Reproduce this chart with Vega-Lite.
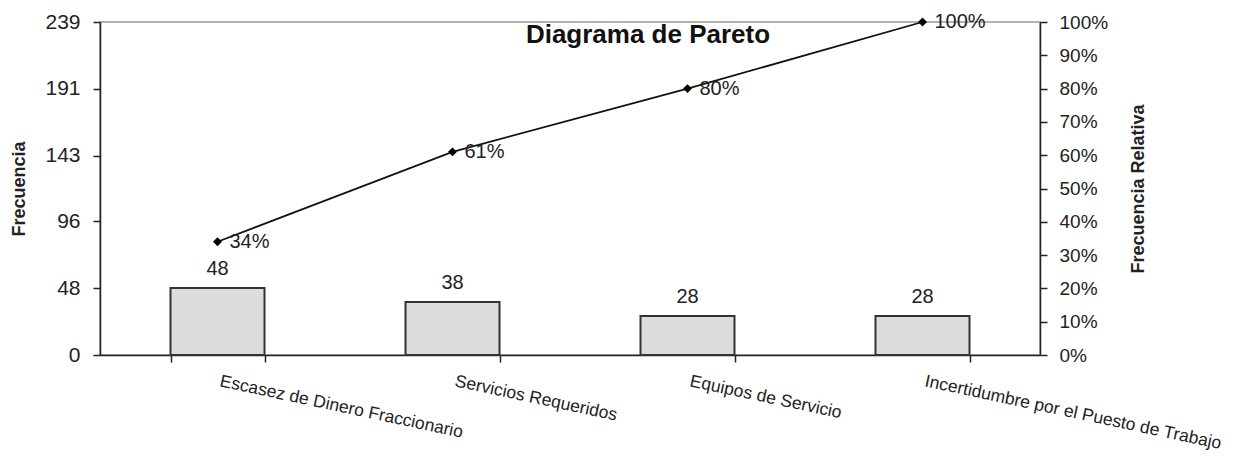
{
  "$schema": "https://vega.github.io/schema/vega-lite/v6.json",
  "autosize": {"type": "none"},
  "padding": {"left": 100, "top": 22, "right": 213, "bottom": 103},
  "width": 940,
  "height": 333,
  "background": "white",
  "config": {
    "font": "Liberation Sans",
    "view": {"stroke": "#999999", "strokeWidth": 1.5},
    "axis": {"labelFont": "Liberation Sans", "titleFont": "Liberation Sans", "labelColor": "#222222", "titleColor": "#222222", "domainColor": "#222222", "tickColor": "#222222", "domainWidth": 1.5, "tickWidth": 1.5}
  },
  "title": {"text": "Diagrama de Pareto", "font": "Liberation Sans", "fontSize": 26, "fontWeight": "bold", "color": "#111111", "orient": "top", "anchor": "middle", "baseline": "middle", "offset": -50, "dx": 78},
  "data": {"values": [
    {"causa": "Escasez de Dinero Fraccionario", "frecuencia": 48, "acumulado": 0.34},
    {"causa": "Servicios Requeridos", "frecuencia": 38, "acumulado": 0.61},
    {"causa": "Equipos de Servicio", "frecuencia": 28, "acumulado": 0.80},
    {"causa": "Incertidumbre por el Puesto de Trabajo", "frecuencia": 28, "acumulado": 1.00}
  ]},
  "encoding": {
    "x": {"field": "causa", "type": "nominal", "sort": null,
      "scale": {"paddingInner": 0.6, "paddingOuter": 0.3},
      "axis": {"title": null, "labelAngle": 12, "labelAlign": "left", "labelBaseline": "top", "labelFontSize": 17.5, "labelPadding": 10, "labelOffset": 4, "labelLimit": 400, "tickBand": "extent", "tickSize": 7, "labelOverlap": false, "labelBound": false, "labelFlush": false}
    }
  },
  "layer": [
    {
      "encoding": {
        "y": {"field": "frecuencia", "type": "quantitative",
          "scale": {"domain": [0, 239], "nice": false},
          "axis": {"title": "Frecuencia", "values": [0, 48, 96, 143, 191, 239], "labelFontSize": 21, "titleFontSize": 18, "titleFontWeight": "bold", "labelPadding": 13, "tickSize": 7, "grid": false, "titlePadding": 16}
        }
      },
      "layer": [
        {"mark": {"type": "bar", "fill": "#dcdcdc", "stroke": "#333333", "strokeWidth": 2}},
        {"mark": {"type": "text", "baseline": "bottom", "dy": -9, "fontSize": 20, "color": "#222222"}, "encoding": {"text": {"field": "frecuencia", "type": "quantitative"}}}
      ]
    },
    {
      "encoding": {
        "y": {"field": "acumulado", "type": "quantitative",
          "scale": {"domain": [0, 1], "nice": false},
          "axis": {"orient": "right", "title": "Frecuencia Relativa", "titleAngle": -90, "format": ".0%", "values": [0, 0.1, 0.2, 0.3, 0.4, 0.5, 0.6, 0.7, 0.8, 0.9, 1.0], "labelFontSize": 19, "titleFontSize": 18, "titleFontWeight": "bold", "labelPadding": 12, "tickSize": 7, "grid": false, "titlePadding": 40}
        }
      },
      "layer": [
        {"mark": {"type": "line", "color": "#111111", "strokeWidth": 1.8}},
        {"mark": {"type": "point", "shape": "diamond", "filled": true, "color": "#000000", "size": 80, "opacity": 1}},
        {"mark": {"type": "text", "align": "left", "baseline": "middle", "dx": 12, "fontSize": 20, "color": "#222222"}, "encoding": {"text": {"field": "acumulado", "type": "quantitative", "format": ".0%"}}}
      ]
    }
  ],
  "resolve": {"scale": {"y": "independent"}}
}
